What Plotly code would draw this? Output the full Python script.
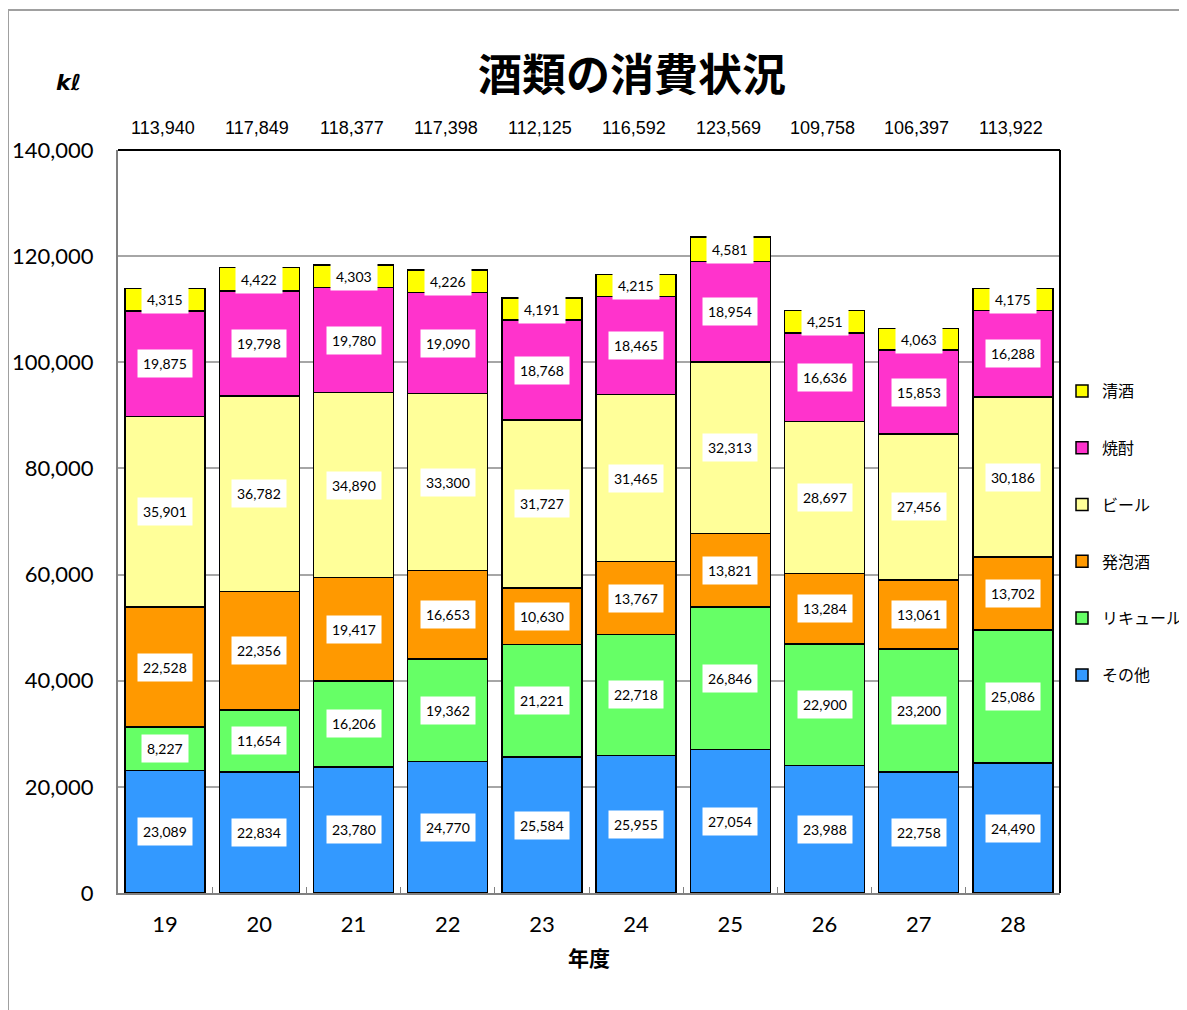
import plotly.graph_objects as go

years = ['19', '20', '21', '22', '23', '24', '25', '26', '27', '28']
sonota = [23089, 22834, 23780, 24770, 25584, 25955, 27054, 23988, 22758, 24490]
liqueur = [8227, 11654, 16206, 19362, 21221, 22718, 26846, 22900, 23200, 25086]
happoshu = [22528, 22356, 19417, 16653, 10630, 13767, 13821, 13284, 13061, 13702]
beer = [35901, 36782, 34890, 33300, 31727, 31465, 32313, 28697, 27456, 30186]
shochu = [19875, 19798, 19780, 19090, 18768, 18465, 18954, 16636, 15853, 16288]
seishu = [4315, 4422, 4303, 4226, 4191, 4215, 4581, 4251, 4063, 4175]
totals = [113940, 117849, 118377, 117398, 112125, 116592, 123569, 109758, 106397, 113922]

series_names = ['その他', 'リキュール', '発泡酒', 'ビール', '焼酎', '清酒']
series_values = [sonota, liqueur, happoshu, beer, shochu, seishu]
series_colors = ['#3399FF', '#66FF66', '#FF9900', '#FFFF99', '#FF33CC', '#FFFF00']

JP = 'Noto Sans CJK JP'
NUM = 'Lato'

# page offset (body margin) compensation; plot area in screen px: x 118..1060, y 150..893
OFF = 8
PL, PR, PT, PB = 118, 1060, 150, 893
PW, PH = PR - PL, PB - PT


def px(x):
    return (x - PL) / PW


def py(y):
    return (PB - y) / PH


fig = go.Figure()
n = len(series_names)
for i, (name, vals, col) in enumerate(zip(series_names, series_values, series_colors)):
    fig.add_trace(go.Bar(
        x=years, y=vals, name=name, legendgroup=name, legendrank=100 + (n - i),
        marker=dict(color=col, line=dict(color='#000000', width=1.5)),
        width=0.85,
    ))

annotations = []
# value labels in white boxes
base = [0] * len(years)
for vals in series_values:
    for j, v in enumerate(vals):
        annotations.append(dict(
            x=j, y=base[j] + v / 2, xref='x', yref='y',
            text=f'{v:,}', showarrow=False,
            font=dict(family=NUM, size=14, color='#000000'),
            bgcolor='#FFFFFF', borderpad=5,
        ))
        base[j] += v

# totals above plot
for j, t in enumerate(totals):
    annotations.append(dict(
        x=j, y=1, xref='x', yref='paper', yanchor='bottom', yshift=10, xshift=-2,
        text=f'{t:,}', showarrow=False,
        font=dict(family='Liberation Sans', size=18, color='#000000'),
    ))

# title
annotations.append(dict(
    x=px(632), y=py(72), xref='paper', yref='paper', showarrow=False,
    xanchor='center', yanchor='middle',
    text='<b>酒類の消費状況</b>', font=dict(family=JP, size=44, color='#000000'),
))
# unit
annotations.append(dict(
    x=px(68), y=py(83), xref='paper', yref='paper', showarrow=False,
    xanchor='center', yanchor='middle',
    text='<b><i>kℓ</i></b>', font=dict(family='DejaVu Sans', size=22, color='#000000'),
))

shapes = [
    # outer frame
    dict(type='rect', xref='paper', yref='paper',
         x0=px(8), x1=px(1210), y0=py(1030), y1=py(10),
         line=dict(color='#A0A0A0', width=2), fillcolor='rgba(0,0,0,0)', layer='below'),
    # top border
    dict(type='line', xref='paper', yref='paper', x0=0, x1=1, y0=1, y1=1,
         line=dict(color='#000000', width=2)),
    # right border
    dict(type='line', xref='paper', yref='paper', x0=1, x1=1, y0=0, y1=1,
         line=dict(color='#000000', width=2)),
]

fig.update_layout(
    width=1187, height=1010,
    margin=dict(l=PL - OFF, r=1187 - (PR - OFF), t=PT - OFF, b=1010 - (PB - OFF)),
    paper_bgcolor='#FFFFFF', plot_bgcolor='#FFFFFF',
    barmode='stack',
    annotations=annotations,
    shapes=shapes,
    legend=dict(
        traceorder='grouped', tracegroupgap=33,
        xref='container', yref='container',
        x=(1062 - OFF) / 1187, xanchor='left', y=1 - (374 - OFF) / 1010, yanchor='top',
        font=dict(family=JP, size=16, color='#000000'),
        bgcolor='rgba(0,0,0,0)', itemwidth=30,
    ),
    xaxis=dict(
        type='category', automargin=False,
        title=dict(text='<b>年度</b>', font=dict(family=JP, size=21, color='#000000'), standoff=15),
        tickfont=dict(family=NUM, size=22, color='#000000'),
        showline=True, linecolor='#808080', linewidth=2,
        ticks='inside', ticklen=6, tickcolor='#808080', tickson='boundaries',
        ticklabelstandoff=11, showgrid=False,
    ),
    yaxis=dict(
        automargin=False,
        range=[0, 140000], dtick=20000, tickformat=',',
        tickfont=dict(family=NUM, size=22, color='#000000'),
        showline=True, linecolor='#808080', linewidth=2,
        showgrid=True, gridcolor='#A6A6A6', gridwidth=1.5,
        ticks='', ticklabelstandoff=18, zeroline=False,
    ),
)

fig.write_html('out.html')
